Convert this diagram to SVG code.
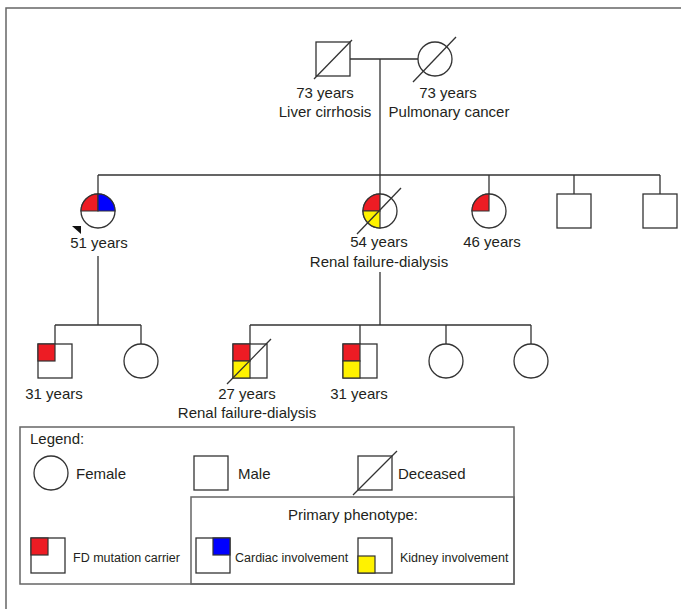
<svg xmlns="http://www.w3.org/2000/svg" width="681" height="609" viewBox="0 0 681 609">
<style>
text{font-family:"Liberation Sans",Arial,sans-serif;fill:#231f20;font-size:15px}
.s{font-size:12.5px}
.m{text-anchor:middle}
.ln{fill:none;stroke:#333;stroke-width:1.3}
.nd{fill:#fff;stroke:#333;stroke-width:1.3}
.r{fill:#ed1c24;stroke:#333;stroke-width:1.2}
.b{fill:#0000ff;stroke:#333;stroke-width:1.2}
.y{fill:#fff200;stroke:#333;stroke-width:1.2}
.bx{fill:none;stroke:#666;stroke-width:1.5}
</style>
<rect width="681" height="609" fill="#fff"/>
<path class="bx" d="M6,609 V8 H681"/>
<g id="connectors">
<path class="ln" d="M350,59 H418 M380,59 V175 M98,175 H660 M98,175 V194 M380,175 V194 M489,175 V194 M574,175 V194 M660,175 V194"/>
<path class="ln" d="M98,256 V325 M55,325 H141 M55,325 V344 M141,325 V344"/>
<path class="ln" d="M380,272 V325 M250,325 H531 M250,325 V344 M360,325 V344 M446,325 V344 M531,325 V344"/>
</g>
<g id="gen1-father">
<rect class="nd" x="316" y="42" width="34" height="34"/>
<path class="ln" d="M314,79 L352,40"/>
<text class="m" x="325" y="98">73 years</text>
<text class="m" x="325" y="117">Liver cirrhosis</text>
</g>
<g id="gen1-mother">
<circle class="nd" cx="435" cy="59" r="17"/>
<path class="ln" d="M413,82 L456,37"/>
<text class="m" x="448" y="98">73 years</text>
<text class="m" x="449" y="117">Pulmonary cancer</text>
</g>
<g id="gen2-proband">
<circle class="nd" cx="98" cy="211" r="17"/>
<path class="r" d="M98,211 L81,211 A17,17 0 0 1 98,194 Z"/>
<path class="b" d="M98,211 L98,194 A17,17 0 0 1 115,211 Z"/>
<polygon points="72,226 81,226 81,234" fill="#111"/>
<text class="m" x="99" y="248">51 years</text>
</g>
<g id="gen2-sister">
<circle class="nd" cx="380" cy="211" r="17"/>
<path class="r" d="M380,211 L363,211 A17,17 0 0 1 380,194 Z"/>
<path class="y" d="M380,211 L380,228 A17,17 0 0 1 363,211 Z"/>
<path class="ln" d="M357,234 L401,188"/>
<text class="m" x="379" y="247">54 years</text>
<text class="m" x="379" y="267">Renal failure-dialysis</text>
</g>
<g id="gen2-sister2">
<circle class="nd" cx="489" cy="211" r="17"/>
<path class="r" d="M489,211 L472,211 A17,17 0 0 1 489,194 Z"/>
<text class="m" x="492" y="247">46 years</text>
</g>
<g id="gen2-brother1"><rect class="nd" x="557" y="194" width="34" height="34"/></g>
<g id="gen2-brother2"><rect class="nd" x="643" y="194" width="34" height="34"/></g>
<g id="gen3-son">
<rect class="nd" x="38" y="344" width="34" height="34"/>
<rect class="r" x="38" y="344" width="17" height="17"/>
<text class="m" x="54" y="399">31 years</text>
</g>
<g id="gen3-daughter"><circle class="nd" cx="141" cy="361" r="17"/></g>
<g id="gen3-nephew1">
<rect class="nd" x="233" y="344" width="34" height="34"/>
<rect class="r" x="233" y="344" width="17" height="17"/>
<rect class="y" x="233" y="361" width="17" height="17"/>
<path class="ln" d="M227,384 L271,339"/>
<text class="m" x="247" y="399">27 years</text>
<text class="m" x="247" y="418">Renal failure-dialysis</text>
</g>
<g id="gen3-nephew2">
<rect class="nd" x="343" y="344" width="34" height="34"/>
<rect class="r" x="343" y="344" width="17" height="17"/>
<rect class="y" x="343" y="361" width="17" height="17"/>
<text class="m" x="359" y="399">31 years</text>
</g>
<g id="gen3-niece1"><circle class="nd" cx="446" cy="361" r="17"/></g>
<g id="gen3-niece2"><circle class="nd" cx="531" cy="361" r="17"/></g>
<g id="legend">
<rect class="bx" x="20" y="427" width="494" height="157"/>
<rect class="bx" x="191" y="497" width="323" height="87"/>
<text x="30" y="444">Legend:</text>
<circle class="nd" cx="51" cy="473" r="17"/>
<text x="76" y="479">Female</text>
<rect class="nd" x="194" y="456" width="34" height="34"/>
<text x="238" y="479">Male</text>
<rect class="nd" x="358" y="456" width="34" height="34"/>
<path class="ln" d="M353,495 L397,451"/>
<text x="398" y="479">Deceased</text>
<text class="m" x="353" y="520">Primary phenotype:</text>
<rect class="nd" x="31" y="538" width="34" height="35"/>
<rect class="r" x="31" y="538" width="17" height="17"/>
<text class="s" x="73" y="562">FD mutation carrier</text>
<rect class="nd" x="196" y="538" width="34" height="35"/>
<rect class="b" x="213" y="538" width="17" height="17"/>
<text class="s" x="235" y="562">Cardiac involvement</text>
<rect class="nd" x="358" y="538" width="34" height="35"/>
<rect class="y" x="358" y="556" width="17" height="17"/>
<text class="s" x="400" y="562">Kidney involvement</text>
</g>
</svg>
